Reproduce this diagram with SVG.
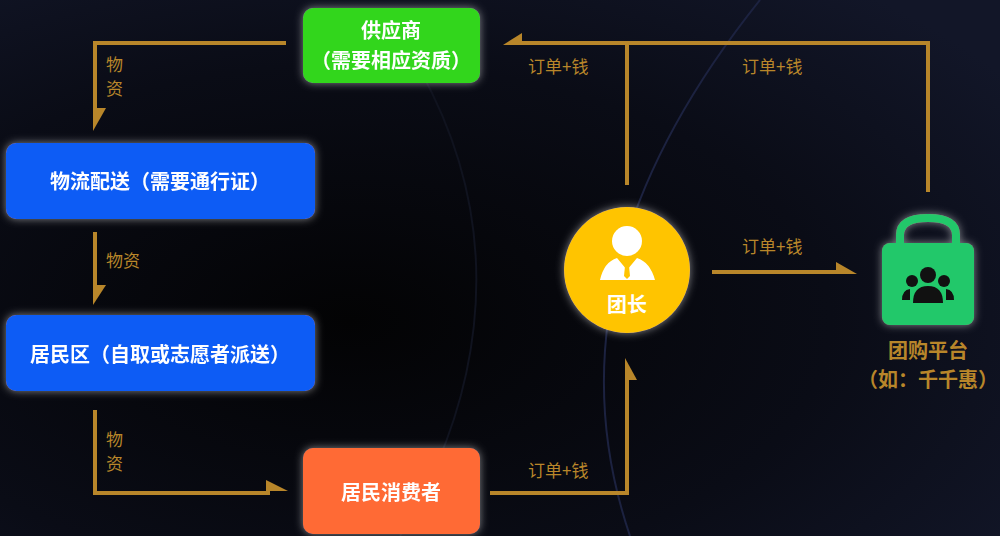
<svg xmlns="http://www.w3.org/2000/svg" width="1000" height="536" viewBox="0 0 1000 536">
<defs>
<style>
.ln{fill:none;stroke:#b8862a;stroke-width:4}
.ah{fill:#b8862a}
.lb{font-family:"Noto Sans CJK SC","Liberation Sans",sans-serif;font-size:17px;fill:#b8862a}
.nt{font-family:"Noto Sans CJK SC","Liberation Sans",sans-serif;font-size:20px;font-weight:bold;fill:#fff;text-anchor:middle}
</style>
<radialGradient id="bg" cx="0.35" cy="0.6" r="0.8">
<stop offset="0" stop-color="#030304"/><stop offset="0.6" stop-color="#0a0c16"/><stop offset="1" stop-color="#121628"/>
</radialGradient>
<filter id="glow" x="-20%" y="-30%" width="140%" height="160%"><feGaussianBlur in="SourceAlpha" stdDeviation="4" result="b"/><feFlood flood-color="#fff" flood-opacity="0.5"/><feComposite in2="b" operator="in"/><feMerge><feMergeNode/><feMergeNode in="SourceGraphic"/></feMerge></filter>
</defs>
<rect width="1000" height="536" fill="url(#bg)"/>
<path d="M760 0 C640 150 560 330 630 536" fill="none" stroke="#1c2240" stroke-width="2"/>
<path d="M420 70 C520 250 470 420 400 536" fill="none" stroke="#10131f" stroke-width="2"/>
<g id="connectors">
<path class="ln" d="M286 43 H95 V112"/><path class="ah" d="M93 108 H106 L93 131 Z"/>
<text class="lb" x="106" y="71">物</text><text class="lb" x="106" y="95">资</text>
<path class="ln" d="M95 232 V290"/><path class="ah" d="M93 285 H106 L93 305 Z"/>
<text class="lb" x="106" y="267">物资</text>
<path class="ln" d="M95 410 V493 H270"/><path class="ah" d="M266 491 V480 L288 491 Z"/>
<text class="lb" x="106" y="446">物</text><text class="lb" x="106" y="470">资</text>
<path class="ln" d="M490 493 H627 V376"/><path class="ah" d="M625 380 V358 L637 380 Z"/>
<text class="lb" x="528" y="477">订单+钱</text>
<path class="ln" d="M627 185 V43 H520"/><path class="ah" d="M522 45 V33 L503 45 Z"/>
<path class="ln" d="M627 43 H928 V192"/>
<text class="lb" x="528" y="73">订单+钱</text>
<text class="lb" x="742" y="73">订单+钱</text>
<path class="ln" d="M712 272 H840"/><path class="ah" d="M836 274 V262 L857 274 Z"/>
<text class="lb" x="742" y="253">订单+钱</text>
</g>
<g id="supplier" filter="url(#glow)"><rect x="303" y="8" width="177" height="75" rx="10" fill="#33d61f"/>
<text class="nt" x="391" y="38">供应商</text><text class="nt" x="391" y="68">（需要相应资质）</text></g>
<g id="logistics" filter="url(#glow)"><rect x="6" y="143" width="309" height="76" rx="10" fill="#0d5cf5"/>
<text class="nt" x="160" y="189">物流配送（需要通行证）</text></g>
<g id="residential" filter="url(#glow)"><rect x="6" y="315" width="309" height="76" rx="10" fill="#0d5cf5"/>
<text class="nt" x="160" y="362">居民区（自取或志愿者派送）</text></g>
<g id="consumer" filter="url(#glow)"><rect x="303" y="448" width="177" height="86" rx="10" fill="#ff6a35"/>
<text class="nt" x="391" y="500">居民消费者</text></g>
<g id="leader"><circle cx="627" cy="270" r="63" fill="#ffc400" filter="url(#glow)"/>
<circle cx="627" cy="241" r="15" fill="#fff"/>
<path d="M600 280 Q604 262 617 258 L627 270 L637 258 Q650 262 655 280 Z" fill="#fff"/>
<path d="M625 266 H629 L630 276 L627 279 L624 276 Z" fill="#ffc400"/>
<text class="nt" x="627" y="312">团长</text></g>
<g id="platform"><g filter="url(#glow)">
<path d="M900 245 V235 Q900 218 928 218 Q956 218 956 235 V245" fill="none" stroke="#22c86a" stroke-width="8"/>
<rect x="882" y="243" width="92" height="82" rx="8" fill="#22c86a"/></g>
<circle cx="928" cy="275" r="8" fill="#111"/><circle cx="912" cy="281" r="6" fill="#111"/><circle cx="944" cy="281" r="6" fill="#111"/>
<path d="M913 303 Q913 286 928 286 Q943 286 943 303 Z" fill="#111"/>
<path d="M902 300 Q902 290 910 289 L910 300 Z M954 300 Q954 290 946 289 L946 300 Z" fill="#111"/>
<text class="nt" x="928" y="358" style="fill:#b8862a">团购平台</text>
<text class="nt" x="928" y="387" style="fill:#b8862a">（如：千千惠）</text></g>
</svg>
